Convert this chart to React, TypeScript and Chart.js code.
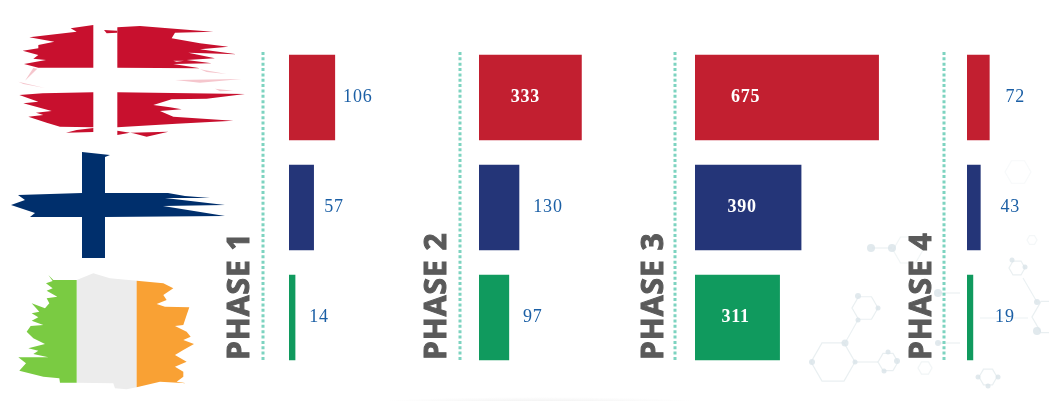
import React, { useEffect, useRef } from "react";
import { Chart, registerables } from "chart.js";

Chart.register(...registerables);

const countries = ["Denmark", "Finland", "Ireland"];
const phase1Values = [106, 57, 14];
const phase2Values = [333, 130, 97];
const phase3Values = [675, 390, 311];
const phase4Values = [72, 43, 19];
const phaseNames = ["PHASE 1", "PHASE 2", "PHASE 3", "PHASE 4"];
const barColors = ["#c21f30", "#243578", "#109a5e"];

const panels = [
  { name: phaseNames[0], values: phase1Values, left: 220, right: 420, x0: 289, pxPerUnit: 0.432, titleX: 249, dotX: 263, offsets: [23, 20.5, 24] },
  { name: phaseNames[1], values: phase2Values, left: 420, right: 635, x0: 479, pxPerUnit: 0.3076, titleX: 446, dotX: 460, offsets: [-56, 29, 24] },
  { name: phaseNames[2], values: phase3Values, left: 635, right: 905, x0: 695, pxPerUnit: 0.272, titleX: 663, dotX: 675, offsets: [-133, -59, -44] },
  { name: phaseNames[3], values: phase4Values, left: 905, right: 1049, x0: 967, pxPerUnit: 0.31, titleX: 931, dotX: 944, offsets: [26, 30, 32] },
];

const panelDecor = {
  id: "panelDecor",
  afterDatasetsDraw(chart: any, _args: any, opts: any) {
    const ctx = chart.ctx;
    // dotted divider
    ctx.save();
    ctx.strokeStyle = "#7dd3c0";
    ctx.lineWidth = 3;
    ctx.setLineDash([3, 2.35]);
    ctx.beginPath();
    ctx.moveTo(opts.dotX - opts.left, 52);
    ctx.lineTo(opts.dotX - opts.left, 360);
    ctx.stroke();
    ctx.restore();
    // rotated phase title
    ctx.save();
    ctx.translate(opts.titleX - opts.left, 360);
    ctx.rotate(-Math.PI / 2);
    ctx.font = "bold 30px 'Open Sans'";
    ctx.fillStyle = "#5a5a5a";
    ctx.strokeStyle = "#5a5a5a";
    ctx.lineWidth = 1;
    ctx.textAlign = "left";
    ctx.textBaseline = "alphabetic";
    (ctx as any).letterSpacing = "1px";
    ctx.fillText(opts.name, 0, 0);
    ctx.strokeText(opts.name, 0, 0);
    ctx.restore();
    // value labels
    const meta = chart.getDatasetMeta(0);
    meta.data.forEach((bar: any, i: number) => {
      const offset = opts.offsets[i];
      const inside = offset < 0;
      ctx.save();
      ctx.font = `${inside ? "bold " : ""}18px 'Liberation Serif'`;
      ctx.fillStyle = inside ? "#ffffff" : "#1b5fa5";
      ctx.textAlign = "center";
      ctx.textBaseline = "middle";
      (ctx as any).letterSpacing = "0.8px";
      ctx.fillText(String(chart.data.datasets[0].data[i]), bar.x + offset, bar.y - 0.5);
      ctx.restore();
    });
  },
};

function Panel({ panel }: { panel: (typeof panels)[number] }) {
  const ref = useRef<HTMLCanvasElement>(null);
  useEffect(() => {
    const padLeft = panel.x0 - panel.left;
    const plotWidth = panel.right - panel.x0;
    const chart = new Chart(ref.current!, {
      type: "bar",
      data: {
        labels: countries,
        datasets: [
          {
            label: panel.name,
            data: panel.values,
            backgroundColor: barColors,
            borderWidth: 0,
            barThickness: 85,
          },
        ],
      },
      options: {
        indexAxis: "y",
        responsive: false,
        animation: false,
        layout: { padding: { left: padLeft, right: 0, top: 42.5, bottom: 28.5 } },
        scales: {
          x: { display: false, min: 0, max: plotWidth / panel.pxPerUnit },
          y: { display: false },
        },
        plugins: {
          legend: { display: false },
          tooltip: { enabled: false },
          panelDecor: panel,
        },
      } as any,
      plugins: [panelDecor],
    });
    return () => chart.destroy();
  }, [panel]);
  return (
    <canvas
      ref={ref}
      width={panel.right - panel.left}
      height={401}
      style={{ position: "absolute", left: panel.left, top: 0 }}
    />
  );
}

const pts = (list: number[][]) => list.map((p) => p.join(",")).join(" ");

const dkRed = [
  [[280,75],[280,203],[115,203],[72,192],[138,180],[100,176],[115,165],[68,152],[115,145],[115,135],[163,125],[88,112],[165,103],[230,95],[212,85]],
  [[352,82],[352,203],[600,205],[520,192],[635,190],[560,180],[645,175],[565,158],[710,163],[600,148],[685,140],[600,130],[515,115],[525,98],[640,95],[570,90],[420,78]],
  [[312,90],[352,92],[352,98],[320,100]],
  [[280,277],[280,382],[180,380],[140,368],[85,350],[130,345],[108,338],[155,333],[70,310],[115,305],[58,285],[128,280]],
  [[280,384],[280,396],[198,398],[230,390]],
  [[352,277],[735,282],[620,296],[515,298],[460,315],[510,322],[545,328],[480,333],[520,350],[700,362],[515,372],[580,368],[352,382]],
  [[352,392],[352,405],[390,398],[505,395],[440,410],[400,400]],
];
const dkFade = [
  [[55,245],[135,264],[70,252]],
  [[525,240],[725,237],[600,248]],
  [[600,208],[680,222],[620,216]],
  [[645,266],[700,272],[660,274]],
  [[100,204],[112,206],[75,242]],
  [[520,182],[552,182],[530,186]],
];
const fiPoly = [[82,152],[110,155],[105,157],[105,193],[168,193],[185,196],[210,198],[165,198],[225,205],[163,206],[225,216],[105,217],[105,258],[82,258],[82,217],[30,217],[35,213],[11,205],[25,200],[18,195],[82,193]];
const ieGreen = [[230,240],[160,240],[145,225],[158,243],[138,250],[158,265],[140,272],[172,290],[140,295],[148,310],[135,325],[95,310],[118,335],[95,340],[115,352],[95,362],[130,375],[92,378],[80,395],[100,415],[135,432],[85,445],[115,452],[100,462],[145,472],[55,472],[78,490],[58,512],[130,530],[178,535],[180,548],[230,548]];
const ieWhite = [[230,240],[280,220],[330,235],[410,242],[410,562],[380,568],[345,565],[340,550],[230,548]];
const ieOrange = [[410,242],[490,250],[520,265],[490,285],[500,300],[470,312],[495,320],[568,322],[560,345],[550,375],[525,378],[560,395],[572,410],[550,420],[582,432],[550,450],[525,465],[560,485],[525,500],[550,515],[550,530],[530,545],[560,550],[480,545],[410,562]];

const hexes = [
  [833, 362, 22, 0.8],
  [865, 308, 13, 0.8],
  [888, 362, 10, 0.8],
  [908, 250, 15, 0.5],
  [1017, 268, 8, 0.8],
  [988, 377, 9, 0.8],
  [1018, 172, 13, 0.3],
  [1050, 317, 18, 0.8],
  [925, 368, 7, 0.5],
  [1032, 240, 5, 0.4],
];
const links = [
  [845, 343, 858, 320],
  [855, 362, 878, 362],
  [872, 248, 892, 248],
  [1023, 278, 1037, 302],
  [980, 318, 1028, 318],
  [938, 293, 960, 293],
  [938, 343, 960, 343],
];
const nodes = [
  [812, 362, 3], [845, 343, 3.5], [855, 362, 2.5], [858, 296, 3], [878, 308, 2.5], [858, 320, 2.5],
  [892, 248, 4], [871, 248, 4], [1037, 302, 3], [1037, 331, 4], [1012, 260, 2.5], [1025, 267, 2.5],
  [978, 377, 2.5], [998, 377, 2.5], [988, 386, 2.5], [888, 352, 2.5], [897, 361, 3], [884, 371, 2.5],
  [938, 293, 4], [938, 343, 3],
];

function hexPoints(cx: number, cy: number, r: number) {
  return [0, 1, 2, 3, 4, 5]
    .map((k) => {
      const a = (Math.PI / 3) * k;
      return `${cx + r * Math.cos(a)},${cy + r * Math.sin(a)}`;
    })
    .join(" ");
}

export default function App() {
  return (
    <div style={{ position: "fixed", left: 0, top: 0, width: 1049, height: 401, overflow: "hidden", background: "#ffffff" }}>
      <svg width={1049} height={401} style={{ position: "absolute", left: 0, top: 0 }}>
        <defs>
          <radialGradient id="floor">
            <stop offset="0%" stopColor="#eeeeee" />
            <stop offset="100%" stopColor="#ffffff" />
          </radialGradient>
        </defs>
        <ellipse cx={540} cy={403} rx={170} ry={6} fill="url(#floor)" />
        <g>
          {hexes.map((h, i) => (
            <polygon key={i} points={hexPoints(h[0], h[1], h[2])} fill="none" stroke="#e3ebee" strokeWidth={1.2} opacity={h[3]} />
          ))}
          {links.map((l, i) => (
            <line key={i} x1={l[0]} y1={l[1]} x2={l[2]} y2={l[3]} stroke="#e3ebee" strokeWidth={1.2} opacity={0.7} />
          ))}
          {nodes.map((n, i) => (
            <circle key={i} cx={n[0]} cy={n[1]} r={n[2]} fill="#d9e4e8" opacity={0.8} />
          ))}
        </g>
        <g transform="scale(0.3333)">
          {dkRed.map((p, i) => (
            <polygon key={i} points={pts(p)} fill="#c8102e" />
          ))}
          {dkFade.map((p, i) => (
            <polygon key={i} points={pts(p)} fill="#f5c6cd" />
          ))}
        </g>
        <polygon points={pts(fiPoly)} fill="#002f6c" />
        <g transform="translate(0,200) scale(0.3333)">
          <polygon points={pts(ieWhite)} fill="#ececec" />
          <polygon points={pts(ieGreen)} fill="#7acb42" />
          <polygon points={pts(ieOrange)} fill="#f9a134" />
        </g>
      </svg>
      {panels.map((p) => (
        <Panel key={p.name} panel={p} />
      ))}
    </div>
  );
}
